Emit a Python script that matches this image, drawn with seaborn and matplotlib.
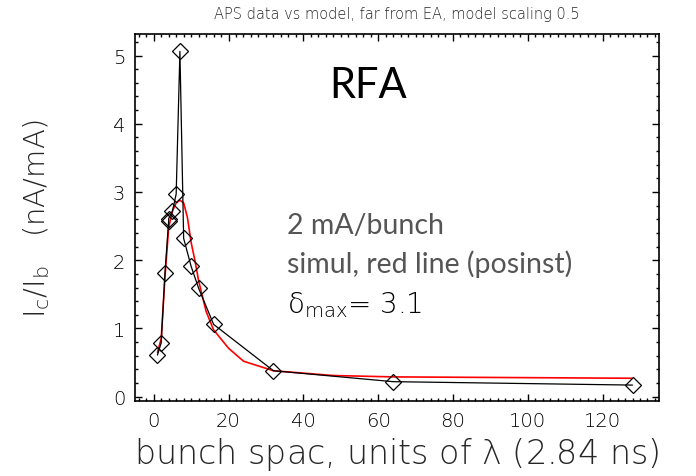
import numpy as np
import pandas as pd
import matplotlib
matplotlib.use("Agg")
import matplotlib.pyplot as plt
from matplotlib.ticker import MultipleLocator
import seaborn as sns

# ========== DATA ==========
# measured (black diamonds), in the order they are joined
meas_spacing = [1, 2, 3, 4, 4, 5, 6, 7, 8, 10, 12, 16, 32, 64, 128]
meas_ratio = [0.61, 0.79, 1.81, 2.58, 2.61, 2.72, 2.97, 5.06, 2.32, 1.91, 1.59, 1.06, 0.38, 0.22, 0.17]

# simulation (red line, posinst)
sim_spacing = [1, 2, 3, 4, 5, 6, 7, 8, 9, 10, 11, 12, 14, 16, 20, 24, 32, 48, 64, 128]
sim_ratio = [0.65, 0.85, 1.75, 2.48, 2.72, 2.84, 2.88, 2.84, 2.63, 2.26, 2.0, 1.7, 1.25, 0.98, 0.71, 0.52, 0.38, 0.31, 0.29, 0.27]

title = "APS data vs model, far from EA, model scaling 0.5"
xlabel = r"bunch spac, units of $\mathregular{\lambda}$ (2.84 ns)"
ylabel = r"I$_{\rm c}$/I$_{\rm b}$   (nA/mA)"
notes = ["2 mA/bunch", "simul, red line (posinst)"]

meas = pd.DataFrame({"spacing": meas_spacing, "ratio": meas_ratio})
sim = pd.DataFrame({"spacing": sim_spacing, "ratio": sim_ratio})

# ========== STYLE ==========
sns.set_style("ticks")
plt.rcParams["font.family"] = ["DejaVu Sans"]
plt.rcParams["font.weight"] = 200
plt.rcParams["axes.labelweight"] = 200
plt.rcParams["axes.titleweight"] = 200
plt.rcParams["mathtext.fontset"] = "dejavusans"

fig = plt.figure(figsize=(6.96, 4.77), dpi=100)
ax = fig.add_axes([0.194, 0.157, 0.7524, 0.7703])

sns.lineplot(data=sim, x="spacing", y="ratio", ax=ax, color="red", lw=1.2,
             estimator=None, sort=False)
sns.lineplot(data=meas, x="spacing", y="ratio", ax=ax, color="black", lw=0.9,
             estimator=None, sort=False, marker="D", markersize=8,
             markerfacecolor="none", markeredgecolor="black", markeredgewidth=0.9)

ax.set_xlim(-5, 135)
ax.set_ylim(-0.065, 5.32)
ax.xaxis.set_major_locator(MultipleLocator(20))
ax.xaxis.set_minor_locator(MultipleLocator(2))
ax.yaxis.set_major_locator(MultipleLocator(1))
ax.yaxis.set_minor_locator(MultipleLocator(0.2))
ax.tick_params(which="both", direction="in", top=True, right=True, width=1, colors="black")
ax.tick_params(which="major", length=5, labelsize=14, pad=7)
ax.tick_params(which="minor", length=2.5)
for s in ax.spines.values():
    s.set_linewidth(1.2)
    s.set_color("black")

ax.set_xlabel(xlabel, fontsize=24, labelpad=4)
ax.set_ylabel(ylabel, fontsize=21, labelpad=44)
ax.set_title(title, fontsize=10.5, pad=11)

ax.text(0.445, 0.86, "RFA", transform=ax.transAxes, fontsize=30,
        family="Lato", weight="normal", ha="center", va="center", color="black")
ax.text(0.29, 0.48, notes[0], transform=ax.transAxes, fontsize=20.5,
        family="Lato", weight="normal", va="center", color="#555555")
ax.text(0.29, 0.375, notes[1], transform=ax.transAxes, fontsize=20.5,
        family="Lato", weight="normal", va="center", color="#555555")
ax.text(0.29, 0.265, r"$\mathregular{\delta}_{\rm max}$= 3.1", transform=ax.transAxes,
        fontsize=20, va="center", color="black")

fig.savefig("out.png", dpi=100)
